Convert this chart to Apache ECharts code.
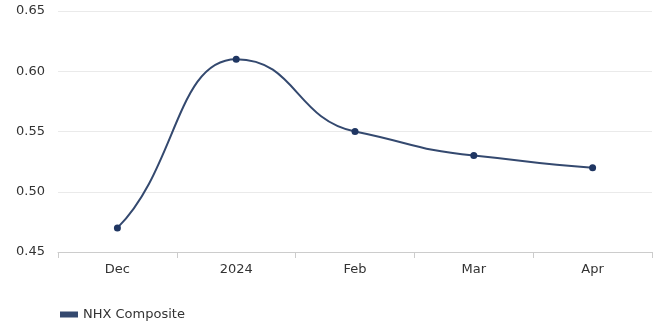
<!DOCTYPE html>
<html><head><meta charset="utf-8">
<script src="https://cdn.jsdelivr.net/npm/echarts@6/dist/echarts.min.js"></script>
<style>html,body{margin:0;padding:0;background:#fff}#c{width:664px;height:327px}</style>
</head><body><div id="c"></div>
<script>
var categories = ['Dec', '2024', 'Feb', 'Mar', 'Apr'];
var values = [0.47, 0.61, 0.55, 0.53, 0.52];
var seriesName = 'NHX Composite';
var yTicks = {min: 0.45, max: 0.65, interval: 0.05};

var LINE_COLOR = '#34496f';
var DOT_COLOR = '#1f3662';

// tangent (pixel slope) at point i of a smooth curve through pts
function tangent(pts, i) {
  var n = pts.length;
  if (n < 2) return 0;
  if (i === 0) return 0.7 * (pts[1][1] - pts[0][1]) / (pts[1][0] - pts[0][0]);
  if (i === n - 1) return 0.7 * (pts[i][1] - pts[i - 1][1]) / (pts[i][0] - pts[i - 1][0]);
  var s0 = (pts[i][1] - pts[i - 1][1]) / (pts[i][0] - pts[i - 1][0]);
  var s1 = (pts[i + 1][1] - pts[i][1]) / (pts[i + 1][0] - pts[i][0]);
  if (s0 * s1 <= 0) return 0;
  return (s0 > 0 ? 1 : -1) * Math.min(Math.abs(s0), Math.abs(s1));
}

function renderItem(params, api) {
  var n = params.dataInsideLength;
  var pts = [];
  for (var j = 0; j < n; j++) pts.push(api.coord([api.value(0, j), api.value(1, j)]));
  var i = params.dataIndexInside;
  var children = [];
  if (i > 0) {
    var p0 = pts[i - 1], p1 = pts[i];
    var off = (p1[0] - p0[0]) / 2;
    var m0 = tangent(pts, i - 1), m1 = tangent(pts, i);
    children.push({
      type: 'bezierCurve', z2: 1,
      shape: {x1: p0[0], y1: p0[1], cpx1: p0[0] + off, cpy1: p0[1] + m0 * off,
              cpx2: p1[0] - off, cpy2: p1[1] - m1 * off, x2: p1[0], y2: p1[1]},
      style: {stroke: LINE_COLOR, lineWidth: 2, fill: null}
    });
  }
  children.push({
    type: 'circle', z2: 10,
    shape: {cx: pts[i][0], cy: pts[i][1], r: 3.5},
    style: {fill: DOT_COLOR}
  });
  return {type: 'group', children: children};
}

var chart = echarts.init(document.getElementById('c'));
chart.setOption({
  animation: false,
  textStyle: {fontFamily: 'DejaVu Sans'},
  grid: {left: 58, right: 12, top: 11, bottom: 75},
  legend: {
    left: 55, bottom: 1, itemWidth: 18, itemHeight: 6, itemGap: 10,
    textStyle: {fontSize: 13, color: '#333', fontFamily: 'DejaVu Sans'},
    data: [{name: seriesName, icon: 'rect', itemStyle: {color: LINE_COLOR}}]
  },
  xAxis: {
    type: 'category', data: categories, boundaryGap: true,
    axisLine: {lineStyle: {color: '#ccc', width: 1}},
    axisTick: {show: true, length: 6, lineStyle: {color: '#ccc'}},
    axisLabel: {color: '#333', fontSize: 13, margin: 11, fontFamily: 'DejaVu Sans'}
  },
  yAxis: {
    type: 'value', min: yTicks.min, max: yTicks.max, interval: yTicks.interval,
    axisLine: {show: false}, axisTick: {show: false},
    splitLine: {lineStyle: {color: '#eaeaea'}},
    axisLabel: {color: '#333', fontSize: 13, margin: 13, fontFamily: 'DejaVu Sans',
      formatter: function (v) { return v.toFixed(2); }}
  },
  series: [{
    name: seriesName, type: 'custom',
    data: categories.map(function (c, i) { return [c, values[i]]; }),
    encode: {x: 0, y: 1},
    itemStyle: {color: LINE_COLOR},
    renderItem: renderItem
  }]
});
</script></body></html>
